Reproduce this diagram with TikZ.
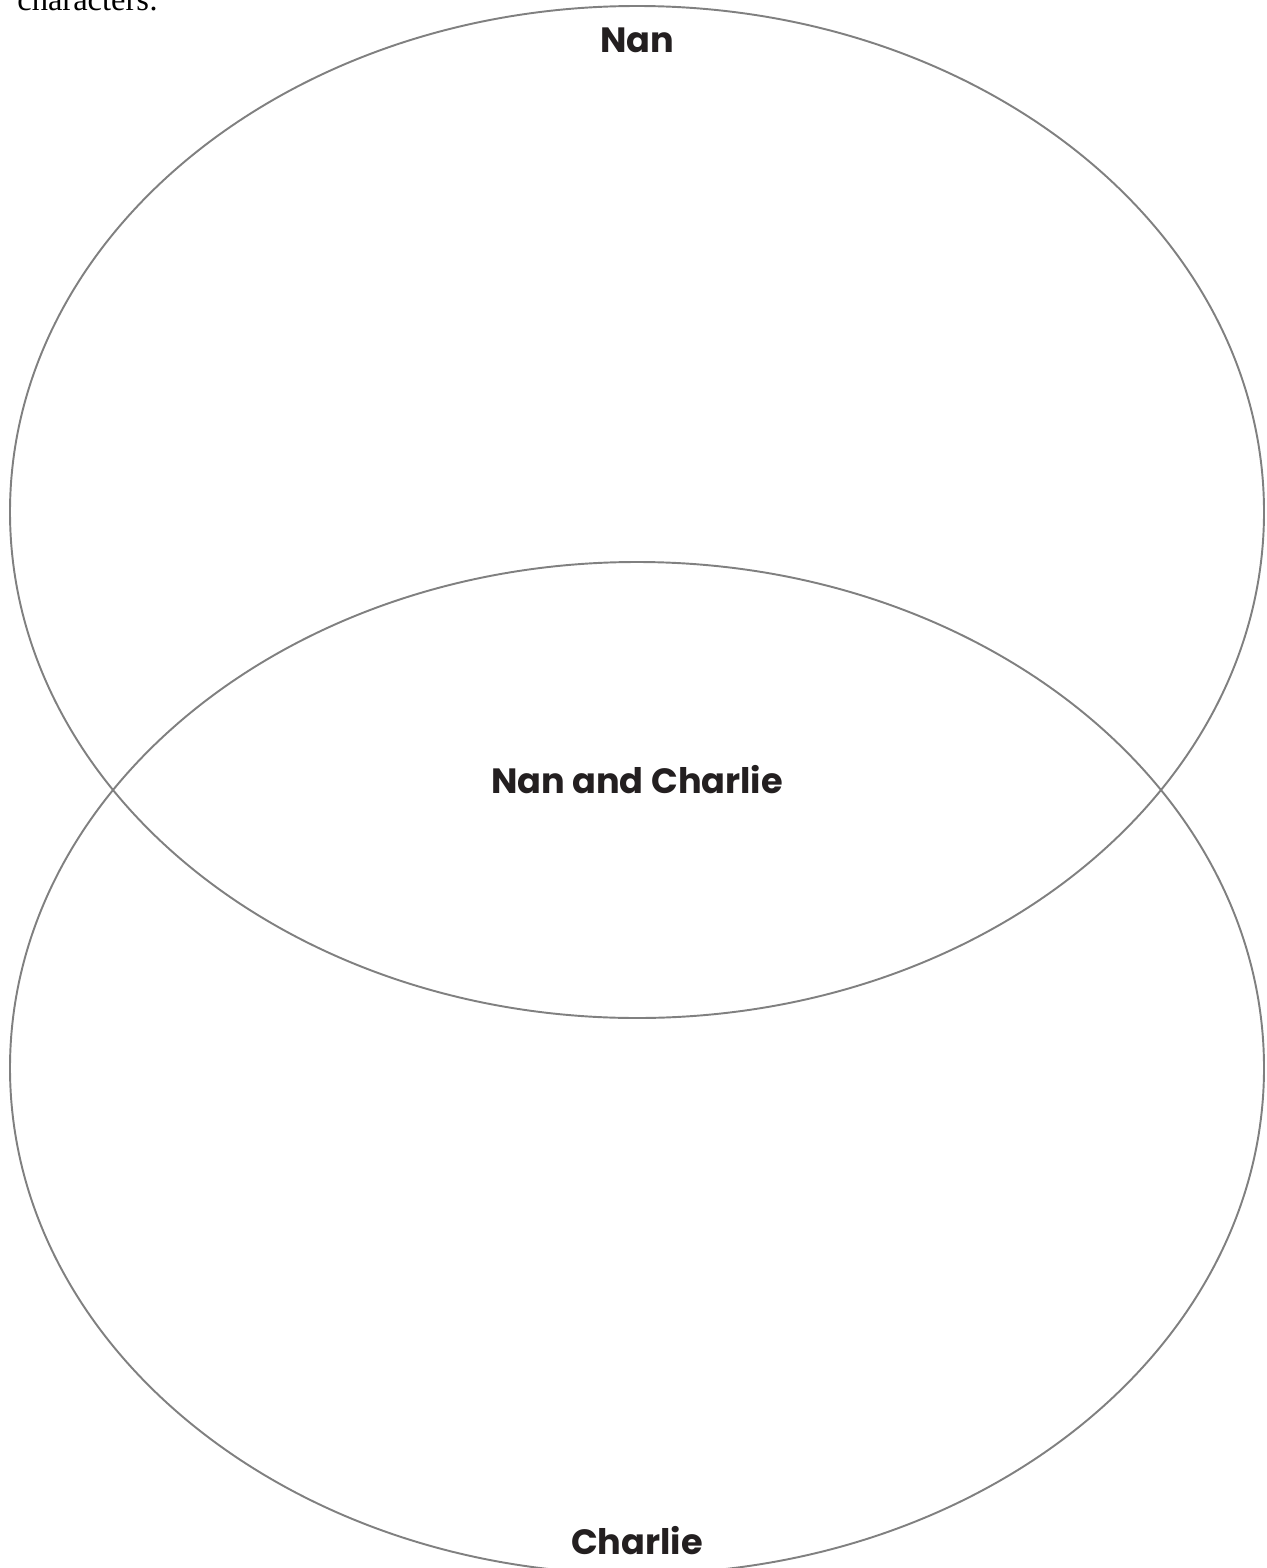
\documentclass[tikz,border=0pt]{standalone}
\usepackage{fontspec}
\setmainfont{Liberation Serif}
\newfontfamily\labelfont{Poppins}
\definecolor{ringgray}{RGB}{128,128,128}
\definecolor{labelink}{RGB}{35,31,32}
\begin{document}
\begin{tikzpicture}[x=0.02cm,y=-0.02cm,
  ring/.style={draw=ringgray,line width=1.1pt},
  setlabel/.style={font=\labelfont\fontsize{20}{23}\selectfont\bfseries,text=labelink,inner sep=0pt}]
\useasboundingbox (0,0) rectangle (1267,1568);
\begin{scope}
\clip (0,0) rectangle (1267,1568);
\node[anchor=base west,inner sep=0pt,font=\fontsize{18.5}{20}\selectfont] (intro) at (17,11) {characters:};
\draw[ring] (637,512) ellipse [x radius=627,y radius=506];
\draw[ring] (637,1068) ellipse [x radius=627,y radius=506];
\end{scope}
\node[setlabel] (nan) at (637,40) {Nan};
\node[setlabel] (both) at (637,780) {Nan and Charlie};
\node[setlabel] (charlie) at (637,1541) {Charlie};
\end{tikzpicture}
\end{document}
